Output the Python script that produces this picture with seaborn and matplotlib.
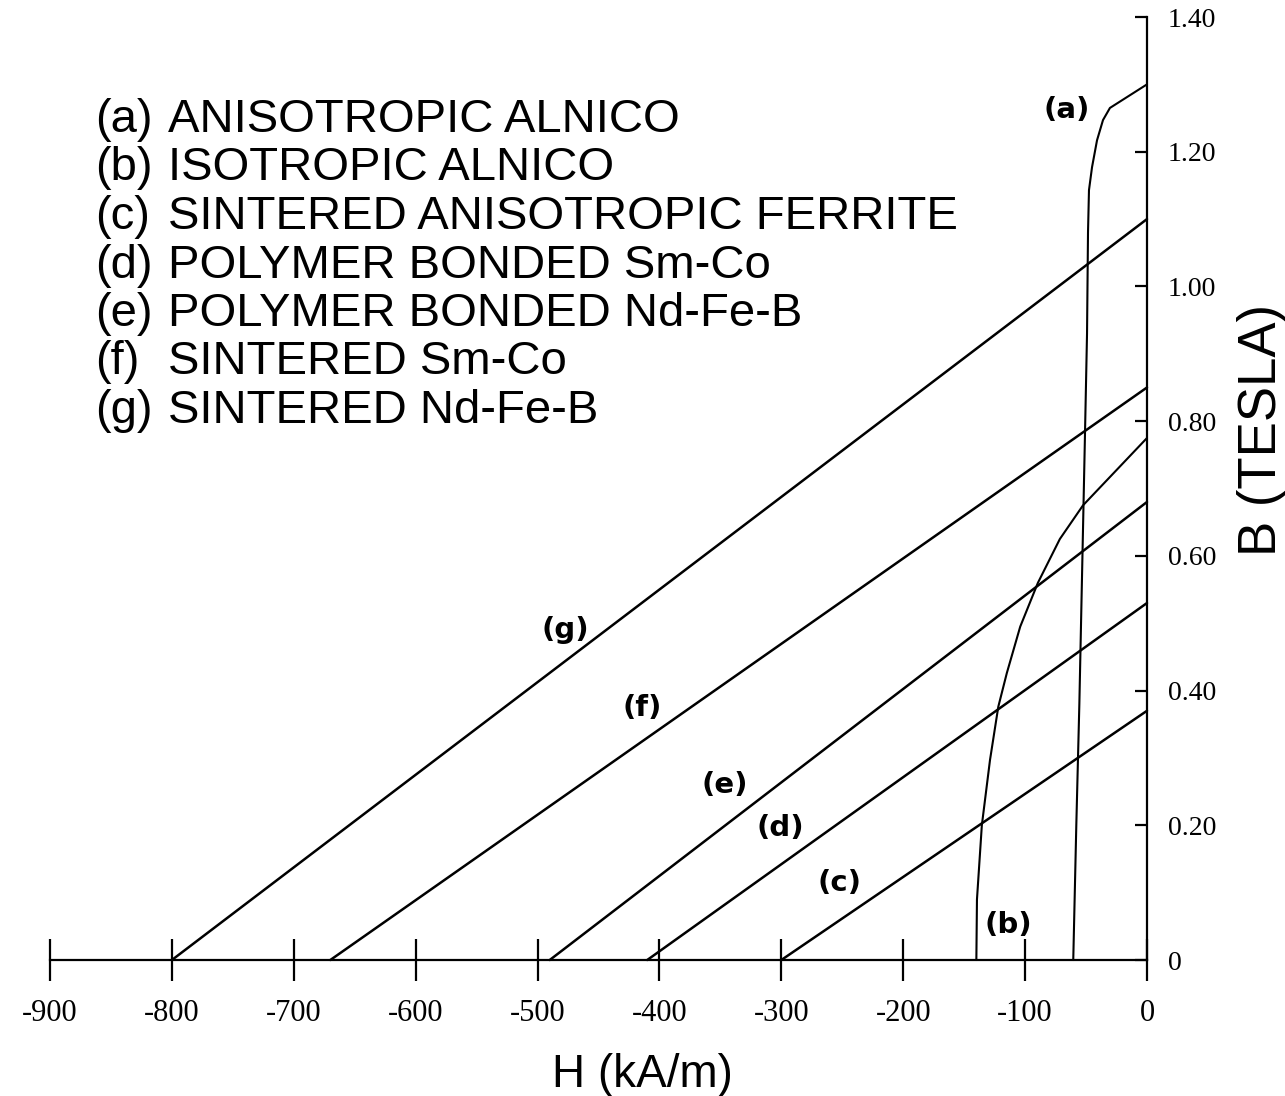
import matplotlib
matplotlib.use("Agg")
import matplotlib.pyplot as plt
import seaborn as sns
import pandas as pd

# ---------------- data ----------------
# straight demagnetisation lines: coercivity (kA/m) and remanence (T)
line_keys = ["c", "d", "e", "f", "g"]
line_hc = [-300, -410, -490, -670, -800]
line_br = [0.37, 0.53, 0.68, 0.85, 1.10]

# (a) anisotropic alnico curve
a_h = [-60.5, -58.0, -55.5, -51.0, -49.2, -48.4, -47.6, -45.1, -41.0, -36.1, -30.4, 0.0]
a_b = [0.0, 0.20, 0.38, 0.77, 0.93, 1.08, 1.143, 1.177, 1.217, 1.247, 1.265, 1.30]

# (b) isotropic alnico curve
b_h = [-140.0, -139.5, -135.5, -128.8, -122.0, -115.0, -104.0, -89.5, -71.5, -52.5, 0.0]
b_b = [0.0, 0.09, 0.20, 0.297, 0.376, 0.426, 0.495, 0.56, 0.625, 0.675, 0.775]

# curve label anchor points (data coords)
lab_keys = ["a", "b", "c", "d", "e", "f", "g"]
lab_h = [-65.6, -114.1, -251.9, -301.1, -346.2, -414.4, -477.5]
lab_b = [1.262, 0.052, 0.114, 0.196, 0.260, 0.374, 0.490]

legend_keys = ["(a)", "(b)", "(c)", "(d)", "(e)", "(f)", "(g)"]
legend_names = ["ANISOTROPIC ALNICO", "ISOTROPIC ALNICO",
                "SINTERED ANISOTROPIC FERRITE", "POLYMER BONDED Sm-Co",
                "POLYMER BONDED Nd-Fe-B", "SINTERED Sm-Co", "SINTERED Nd-Fe-B"]

x_ticks = [-900, -800, -700, -600, -500, -400, -300, -200, -100, 0]
x_ticklabels = ["-900", "-800", "-700", "-600", "-500", "-400", "-300", "-200", "-100", "0"]
y_ticks = [0, 0.2, 0.4, 0.6, 0.8, 1.0, 1.2, 1.4]
y_ticklabels = ["0", "0.20", "0.40", "0.60", "0.80", "1.00", "1.20", "1.40"]

# ---------------- plotting ----------------
sns.set_style("white")
plt.rcParams["font.family"] = ["Liberation Sans", "DejaVu Sans"]
plt.rcParams["text.color"] = "black"

W, H = 1285, 1096
fig = plt.figure(figsize=(W / 100, H / 100), dpi=100)
ax = fig.add_axes([50 / W, 1 - 960 / H, (1147 - 50) / W, (960 - 17) / H])

lw = 1.8
rows = []
for k, hc, br in zip(line_keys, line_hc, line_br):
    rows.append(pd.DataFrame({"H": [hc, 0.0], "B": [0.0, br], "curve": k}))
rows.append(pd.DataFrame({"H": a_h, "B": a_b, "curve": "a"}))
rows.append(pd.DataFrame({"H": b_h, "B": b_b, "curve": "b"}))
df = pd.concat(rows, ignore_index=True)

for k, sub in df.groupby("curve"):
    sns.lineplot(data=sub, x="H", y="B", sort=False, estimator=None,
                 color="black", linewidth=lw if k not in ("a", "b") else 1.5,
                 legend=False, ax=ax, clip_on=False)

ax.set_xlim(-900, 0)
ax.set_ylim(0, 1.40)

for s in ["left", "top"]:
    ax.spines[s].set_visible(False)
for s in ["bottom", "right"]:
    ax.spines[s].set_linewidth(1.6)
    ax.spines[s].set_color("black")
ax.spines["bottom"].set_bounds(-900, 0)
ax.spines["right"].set_bounds(0, 1.40)

ax.set_xticks(x_ticks)
ax.set_xticklabels(x_ticklabels, fontfamily="Liberation Serif", fontsize=22)
ax.yaxis.tick_right()
ax.set_yticks(y_ticks)
ax.set_yticklabels(y_ticklabels, fontfamily="Liberation Serif", fontsize=20)
ax.tick_params(axis="x", bottom=True, top=False, direction="inout", length=30,
               width=1.6, pad=13, colors="black")
ax.tick_params(axis="y", which="both", left=False, right=True, direction="in",
               length=9, width=1.6, pad=15, colors="black")
ax.set_xlabel("")
ax.set_ylabel("")

# curve labels
for k, hx, by in zip(lab_keys, lab_h, lab_b):
    ax.text(hx, by, f"({k})", fontsize=21, fontweight="bold", color="black",
            family=["DejaVu Sans"], ha="center", va="center")

# legend block (text list)
base0 = 132
step = 48.5
for i, (key, name) in enumerate(zip(legend_keys, legend_names)):
    yb = 1 - (base0 + step * i) / H
    fig.text(95 / W, yb, key, fontsize=34, color="black", ha="left", va="baseline")
    fig.text(168 / W, yb, name, fontsize=34, color="black", ha="left", va="baseline")

# axis titles
fig.text(642 / W, 1 - 1075 / H, "H (kA/m)", fontsize=33, color="black",
         ha="center", va="center")
fig.text(1262 / W, 1 - 430 / H, "B (TESLA)", fontsize=38, color="black",
         rotation=90, ha="center", va="center")

fig.savefig("out.png", dpi=100, facecolor="white")
